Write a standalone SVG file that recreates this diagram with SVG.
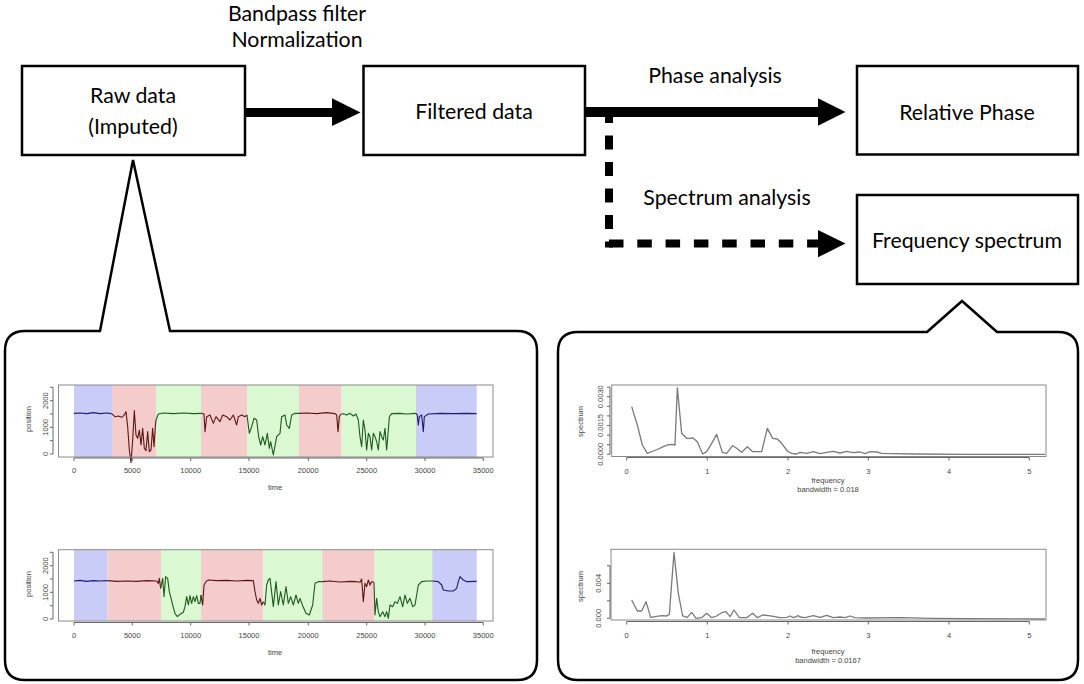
<svg xmlns="http://www.w3.org/2000/svg" width="1084" height="684" viewBox="0 0 1084 684">
<style>
.box{fill:#fff;stroke:#000;stroke-width:2.5}
.lbl{font-family:Lato,"Open Sans","Liberation Sans",sans-serif;font-size:21.3px;fill:#000;text-anchor:middle}
.bub{fill:#fff;stroke:#000;stroke-width:2.5;stroke-linejoin:miter}
.frame{fill:none;stroke:#8a8a8a;stroke-width:1}
.ax{fill:none;stroke:#666;stroke-width:1}
.t{font-family:"Liberation Sans",Arial,sans-serif;font-size:7.5px;fill:#444;text-anchor:middle}
.tr{fill:none;stroke-width:1.1;vector-effect:non-scaling-stroke;stroke-linejoin:round}
.nv{stroke:#1c1c70}.rd{stroke:#5c1616}.gn{stroke:#1f5a1f}
.sp{fill:none;stroke:#7a7a7a;stroke-width:1.3;vector-effect:non-scaling-stroke;stroke-linejoin:round}
.bl{fill:#c9ccf7}.pk{fill:#f4cccc}.gr{fill:#daf8d2}
.head{fill:#000}
.dash{fill:none;stroke:#000;stroke-width:8}
</style>

<!-- labels on connectors -->
<text class="lbl" x="297" y="21">Bandpass filter</text>
<text class="lbl" x="297" y="47">Normalization</text>
<text class="lbl" x="715" y="83">Phase analysis</text>
<text class="lbl" x="727" y="205">Spectrum analysis</text>

<g id="connectors">
<path d="M245,112.5 H334" stroke="#000" stroke-width="9" fill="none"/>
<polygon class="head" points="332,98.3 360.5,112.5 332,126"/>
<path d="M585,112 H820" stroke="#000" stroke-width="10" fill="none"/>
<polygon class="head" points="818,98.3 845.5,112 818,125.7"/>
<path class="dash" d="M609,109 V247.5" stroke-dasharray="14 12.5"/>
<path class="dash" d="M609,243.5 H818" stroke-dasharray="14.5 13.8"/>
<polygon class="head" points="818,230 845.5,243.5 818,257.3"/>
</g>

<g id="node-raw">
<rect class="box" x="22" y="66" width="223" height="89"/>
<text class="lbl" x="133" y="103">Raw data</text>
<text class="lbl" x="133" y="134">(Imputed)</text>
</g>
<g id="node-filtered">
<rect class="box" x="363.5" y="66" width="221.5" height="89"/>
<text class="lbl" x="474" y="119">Filtered data</text>
</g>
<g id="node-relative">
<rect class="box" x="857" y="66" width="221" height="88.5"/>
<text class="lbl" x="967" y="119.5">Relative Phase</text>
</g>
<g id="node-frequency">
<rect class="box" x="857" y="195" width="221" height="89"/>
<text class="lbl" x="967" y="248">Frequency spectrum</text>
</g>

<!-- left callout -->
<g id="callout-left">
<path class="bub" d="M100,331 L133,160 L170,331 H517 Q537,331 537,351 V660 Q537,680 517,680 H25 Q5,680 5,660 V351 Q5,331 25,331 Z"/>
<!-- top plot -->
<rect class="bl" x="74" y="385" width="38" height="72"/>
<rect class="pk" x="112" y="385" width="44" height="72"/>
<rect class="gr" x="156" y="385" width="45" height="72"/>
<rect class="pk" x="201" y="385" width="46" height="72"/>
<rect class="gr" x="247" y="385" width="52" height="72"/>
<rect class="pk" x="299" y="385" width="42" height="72"/>
<rect class="gr" x="341" y="385" width="75" height="72"/>
<rect class="bl" x="416" y="385" width="60.7" height="72"/>
<g transform="translate(0,370) scale(0.33333)">
<polyline class="tr nv" points="222,130 240,129 260,131 280,128 300,131 320,129 335,131"/>
<polyline class="tr rd" points="335,131 345,140 355,138 365,142 372,136 378,125 383,170 388,240 393,278 398,210 403,122 408,195 413,205 418,180 423,225 428,175 433,235 438,242 443,185 448,245 453,240 458,175 462,230 466,170 468,150"/>
<polyline class="tr gn" points="468,150 475,132 490,129 520,131 550,129 580,131 603,130"/>
<polyline class="tr rd" points="603,130 612,132 615,185 620,140 630,135 640,160 648,140 660,155 668,135 680,140 690,150 700,135 710,165 715,140 725,135 735,140 741,135"/>
<polyline class="tr gn" points="741,135 748,190 755,170 762,145 770,150 776,200 782,225 788,200 795,225 802,190 808,235 812,215 820,255 830,200 840,190 845,140 855,135 860,165 868,175 875,135 885,130 897,130"/>
<polyline class="tr rd" points="897,130 920,129 950,131 980,128 1005,131 1010,135 1014,185 1018,140 1022,133"/>
<polyline class="tr gn" points="1022,133 1030,131 1040,135 1050,130 1060,138 1068,132 1075,150 1080,200 1085,230 1090,150 1095,180 1100,240 1105,190 1110,200 1115,240 1120,190 1125,200 1130,215 1135,240 1140,185 1145,200 1150,210 1155,175 1160,240 1165,180 1168,140 1175,131 1200,130 1220,132 1248,130"/>
<polyline class="tr nv" points="1248,130 1252,135 1255,165 1258,140 1265,135 1270,185 1273,140 1285,132 1320,130 1360,131 1400,130 1430,131"/>
</g>
<rect class="frame" x="58.5" y="385" width="434.5" height="72"/>
<path class="ax" d="M53,454 V387.3 M53,454 h-3 M53,440.7 h-3 M53,427.3 h-3 M53,414 h-3 M53,400.7 h-3 M53,387.3 h-3"/>
<path class="ax" d="M74,458 H483.3 M74,458 v3 M132.3,458 v3 M190.7,458 v3 M249,458 v3 M308.3,458 v3 M366.7,458 v3 M425,458 v3 M483.3,458 v3"/>
<text class="t" transform="translate(48,454) rotate(-90)">0</text>
<text class="t" transform="translate(48,427.3) rotate(-90)">1000</text>
<text class="t" transform="translate(48,400.7) rotate(-90)">2000</text>
<text class="t" transform="translate(31,419) rotate(-90)">position</text>
<text class="t" x="74" y="473">0</text>
<text class="t" x="132.3" y="473">5000</text>
<text class="t" x="190.7" y="473">10000</text>
<text class="t" x="249" y="473">15000</text>
<text class="t" x="308.3" y="473">20000</text>
<text class="t" x="366.7" y="473">25000</text>
<text class="t" x="425" y="473">30000</text>
<text class="t" x="483.3" y="473">35000</text>
<text class="t" x="275" y="490">time</text>
<!-- bottom plot -->
<rect class="bl" x="74" y="549.7" width="33.3" height="71.3"/>
<rect class="pk" x="107.3" y="549.7" width="53.7" height="71.3"/>
<rect class="gr" x="161" y="549.7" width="40" height="71.3"/>
<rect class="pk" x="201" y="549.7" width="62.3" height="71.3"/>
<rect class="gr" x="263.3" y="549.7" width="59" height="71.3"/>
<rect class="pk" x="322.3" y="549.7" width="51.7" height="71.3"/>
<rect class="gr" x="374" y="549.7" width="58.3" height="71.3"/>
<rect class="bl" x="432.3" y="549.7" width="44.4" height="71.3"/>
<g transform="translate(0,535) scale(0.33333)">
<polyline class="tr nv" points="222,138 240,136 260,139 280,137 300,138 322,137"/>
<polyline class="tr rd" points="322,137 350,139 380,138 410,139 440,137 470,138 475,145 478,130 482,160"/>
<polyline class="tr gn" points="482,160 488,130 492,185 497,125 503,130 508,170 512,185 518,210 525,235 532,245 540,238 550,232 555,215 560,185 565,210 570,182 575,205 580,185 585,200 590,182 595,205 600,205 603,180"/>
<polyline class="tr rd" points="603,180 608,210 612,150 618,140 625,135 650,137 680,136 710,138 740,136 760,137 765,170 770,195 775,205 780,190 785,210 790,200"/>
<polyline class="tr gn" points="790,200 795,210 800,150 805,135 810,130 820,215 828,140 835,210 842,170 850,210 858,155 865,205 872,185 880,210 888,180 895,205 900,190 908,212 918,235 928,240 938,210 945,145 955,140 967,140"/>
<polyline class="tr rd" points="967,140 990,138 1020,141 1050,139 1070,140 1080,142 1085,132 1090,200 1095,145 1100,155 1105,135 1110,150 1115,140 1122,142"/>
<polyline class="tr gn" points="1122,142 1125,240 1130,190 1135,230 1140,245 1148,230 1155,245 1160,230 1165,250 1170,210 1178,215 1185,200 1192,205 1200,185 1208,215 1215,180 1222,205 1230,190 1238,215 1245,210 1255,150 1265,140 1280,138 1297,138"/>
<polyline class="tr nv" points="1297,138 1315,140 1325,150 1330,165 1345,168 1360,168 1370,160 1375,140 1380,125 1390,135 1400,140 1430,139"/>
</g>
<rect class="frame" x="58.5" y="549.7" width="434.5" height="71.3"/>
<path class="ax" d="M53,619 V552.3 M53,619 h-3 M53,605.7 h-3 M53,592.3 h-3 M53,579 h-3 M53,565.7 h-3 M53,552.3 h-3"/>
<path class="ax" d="M74,622.5 H483.3 M74,622.5 v3 M132.3,622.5 v3 M190.7,622.5 v3 M249,622.5 v3 M308.3,622.5 v3 M366.7,622.5 v3 M425,622.5 v3 M483.3,622.5 v3"/>
<text class="t" transform="translate(48,619) rotate(-90)">0</text>
<text class="t" transform="translate(48,592.3) rotate(-90)">1000</text>
<text class="t" transform="translate(48,565.7) rotate(-90)">2000</text>
<text class="t" transform="translate(31,584) rotate(-90)">position</text>
<text class="t" x="74" y="638">0</text>
<text class="t" x="132.3" y="638">5000</text>
<text class="t" x="190.7" y="638">10000</text>
<text class="t" x="249" y="638">15000</text>
<text class="t" x="308.3" y="638">20000</text>
<text class="t" x="366.7" y="638">25000</text>
<text class="t" x="425" y="638">30000</text>
<text class="t" x="483.3" y="638">35000</text>
<text class="t" x="275" y="655">time</text>
</g>

<!-- right callout -->
<g id="callout-right">
<path class="bub" d="M927,332 L962,301 L997,332 H1058 Q1078,332 1078,352 V660 Q1078,680 1058,680 H578 Q558,680 558,660 V352 Q558,332 578,332 Z"/>
<g transform="translate(560,375) scale(0.33333)">
<polyline class="sp" points="215,95 232,150 247,210 262,235 280,228 295,222 310,215 322,210 335,208 345,210 352,38 365,175 380,190 392,190 398,188 412,200 428,237 440,230 455,205 470,178 487,232 500,235 518,212 530,220 545,232 562,215 578,230 590,230 605,230 622,160 638,190 652,192 665,205 682,228 695,235 710,237 720,232 740,235 760,230 780,236 800,232 820,229 840,234 860,229 880,233 900,231 915,236 930,230 950,231 965,235 1000,236 1070,237 1220,238 1455,238"/>
</g>
<rect class="frame" x="611.7" y="385" width="434.3" height="71.5"/>
<path class="ax" d="M610,454.3 V387.1 M610,454.3 h-3 M610,444.7 h-3 M610,435.1 h-3 M610,425.5 h-3 M610,415.9 h-3 M610,406.3 h-3 M610,396.7 h-3 M610,387.1 h-3"/>
<path class="ax" d="M626.7,457.5 H1029.3 M626.7,457.5 v3 M707.3,457.5 v3 M788,457.5 v3 M868.3,457.5 v3 M949,457.5 v3 M1029.3,457.5 v3"/>
<text class="t" transform="translate(603,454.3) rotate(-90)">0.0000</text>
<text class="t" transform="translate(603,425.5) rotate(-90)">0.0015</text>
<text class="t" transform="translate(603,396.7) rotate(-90)">0.0030</text>
<text class="t" transform="translate(583,421.5) rotate(-90)">spectrum</text>
<text class="t" x="626.7" y="474">0</text>
<text class="t" x="707.3" y="474">1</text>
<text class="t" x="788" y="474">2</text>
<text class="t" x="868.3" y="474">3</text>
<text class="t" x="949" y="474">4</text>
<text class="t" x="1029.3" y="474">5</text>
<text class="t" x="828" y="483">frequency</text>
<text class="t" x="828" y="492">bandwidth = 0.018</text>

<g transform="translate(560,535) scale(0.33333)">
<polyline class="sp" points="215,195 232,228 245,228 258,200 272,247 290,244 305,242 320,243 328,238 342,52 355,175 368,243 382,247 395,232 408,250 425,248 440,235 455,248 470,243 485,233 498,230 510,245 522,225 538,248 560,248 578,235 592,248 608,240 625,242 645,245 660,248 680,247 690,243 700,248 715,242 720,246 735,248 760,242 780,247 800,241 820,248 840,246 855,248 870,243 885,248 920,249 1020,248 1120,250 1220,251 1455,252"/>
</g>
<rect class="frame" x="611" y="549.3" width="435" height="70.7"/>
<path class="ax" d="M610,618.3 V565.8 M610,618.3 h-3 M610,600.8 h-3 M610,583.3 h-3 M610,565.8 h-3"/>
<path class="ax" d="M626.7,621.5 H1029.3 M626.7,621.5 v3 M707.3,621.5 v3 M788,621.5 v3 M868.3,621.5 v3 M949,621.5 v3 M1029.3,621.5 v3"/>
<text class="t" transform="translate(601,618.3) rotate(-90)">0.000</text>
<text class="t" transform="translate(601,583.3) rotate(-90)">0.004</text>
<text class="t" transform="translate(583,586.5) rotate(-90)">spectrum</text>
<text class="t" x="626.7" y="638">0</text>
<text class="t" x="707.3" y="638">1</text>
<text class="t" x="788" y="638">2</text>
<text class="t" x="868.3" y="638">3</text>
<text class="t" x="949" y="638">4</text>
<text class="t" x="1029.3" y="638">5</text>
<text class="t" x="828" y="654">frequency</text>
<text class="t" x="828" y="663">bandwidth = 0.0167</text>
</g>
</svg>
